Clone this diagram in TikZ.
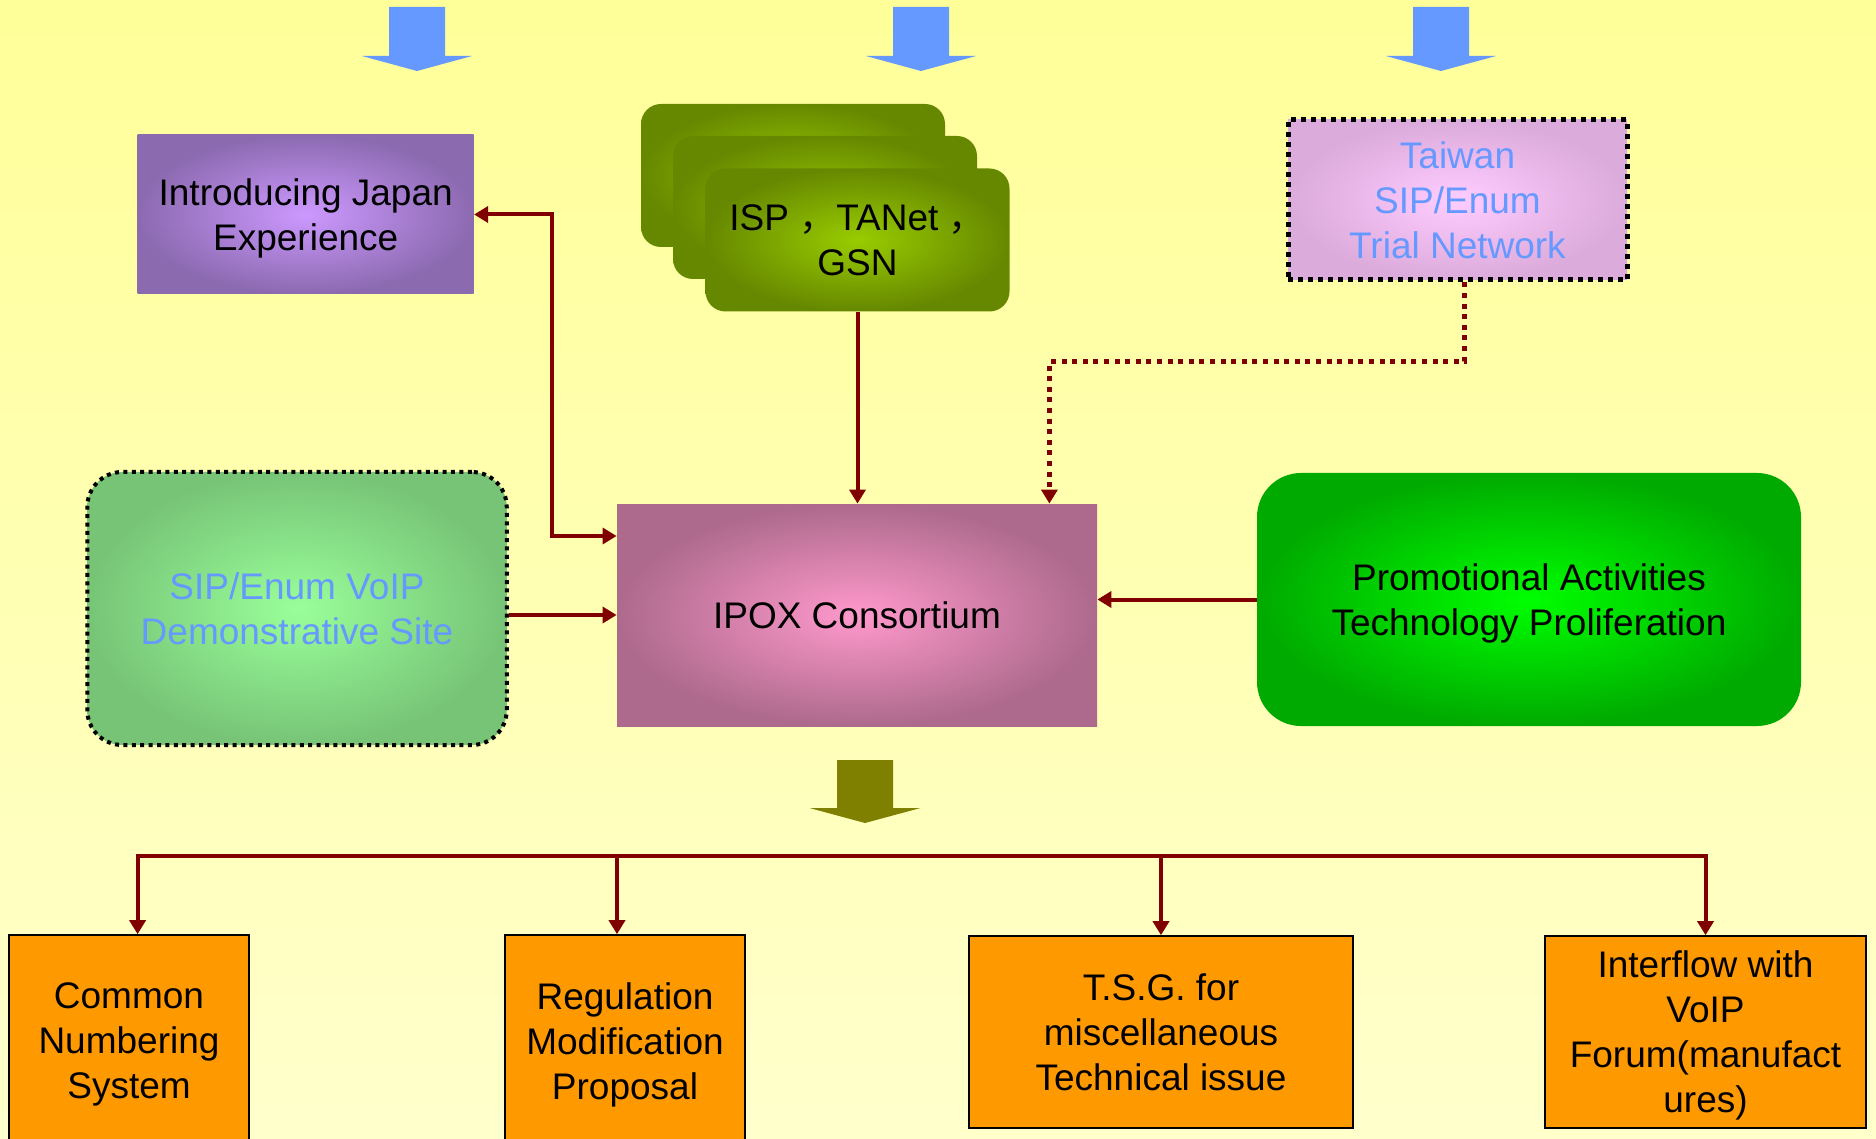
\documentclass[tikz,border=0pt]{standalone}
\usepackage{fontspec}
\setmainfont{Liberation Sans}
\newfontfamily\cjkfont{Noto Sans CJK SC}
\usetikzlibrary{arrows.meta}

\definecolor{bgtop}{RGB}{255,255,153}
\definecolor{bgbot}{RGB}{255,255,204}
\definecolor{linkred}{RGB}{128,0,0}
\definecolor{skyblue}{RGB}{102,153,255}
\definecolor{arrowolive}{RGB}{128,128,0}
\definecolor{boxorange}{RGB}{255,153,0}
\definecolor{japanout}{RGB}{140,106,176}
\definecolor{japanin}{RGB}{204,153,255}
\definecolor{ispout}{RGB}{102,136,0}
\definecolor{ispin}{RGB}{153,204,0}
\definecolor{taiwanout}{RGB}{219,171,219}
\definecolor{taiwanin}{RGB}{255,204,255}
\definecolor{ipoxout}{RGB}{173,106,140}
\definecolor{ipoxin}{RGB}{255,153,204}
\definecolor{demoout}{RGB}{119,196,119}
\definecolor{demoin}{RGB}{153,255,153}
\definecolor{promoout}{RGB}{0,170,0}
\definecolor{promoin}{RGB}{0,255,0}

\newcommand\nodepth[1]{\raisebox{0pt}[\height][0pt]{#1}}

\tikzset{
  box/.style={inner sep=0pt, align=center, font=\fontsize{18.5}{22.5}\selectfont},
  ispcard/.style={box, shade, inner color=ispin, outer color=ispout, rounded corners=10pt,
    minimum width=152pt, minimum height=71.5pt},
  task/.style={box, draw=black, line width=0.8pt, fill=boxorange},
  tip/.style={-{Triangle[length=7pt,width=8pt]}},
  conn/.style={draw=linkred, line width=2pt, tip},
  dotline/.style={draw=linkred, line width=2.5pt, dash pattern=on 2.5pt off 2.8pt, tip},
}

\begin{document}
\begin{tikzpicture}[x=0.5pt,y=-0.5pt]
  \useasboundingbox (0,0) rectangle (1876,1139);
  \clip (0,0) rectangle (1876,1139);
  \shade[top color=bgtop, bottom color=bgbot] (0,0) rectangle (1876,1139);

  \foreach \cx in {417,921,1441}
    \fill[skyblue] (\cx-28,7) -- (\cx+28,7) -- (\cx+28,56) -- (\cx+55,56) -- (\cx,71)
      -- (\cx-55,56) -- (\cx-28,56) -- cycle;

  \node[box, shade, inner color=japanin, outer color=japanout,
    minimum width=168pt, minimum height=79.5pt] (japan) at (305.7,214.5) {Introducing Japan\\\nodepth{Experience}};

  \node[ispcard] (ispback) at (793,175.5) {};
  \node[ispcard] (ispmid) at (825,207.5) {};
  \node[ispcard] (isp) at (857.5,240) {ISP {\cjkfont ，}TANet {\cjkfont ，}\\GSN};

  \node[box, shade, inner color=taiwanin, outer color=taiwanout, draw=black, line width=2.5pt,
    dash pattern=on 2.5pt off 2.5pt, text=skyblue,
    minimum width=169.5pt, minimum height=80pt] (taiwan) at (1457.5,200) {Taiwan\\SIP/Enum\\Trial Network};

  \node[box, shade, inner color=ipoxin, outer color=ipoxout,
    minimum width=240pt, minimum height=111pt] (ipox) at (857,615) {IPOX Consortium};

  \node[box, shade, inner color=demoin, outer color=demoout, draw=black, line width=2pt,
    dash pattern=on 2pt off 2.2pt, rounded corners=17.5pt, text=skyblue,
    minimum width=209.75pt, minimum height=136.5pt] (demo) at (297,608.5) {SIP/Enum VoIP\\Demonstrative Site};

  \node[box, shade, inner color=promoin, outer color=promoout, rounded corners=22pt,
    minimum width=272pt, minimum height=126.5pt] (promo) at (1529,599.5) {Promotional Activities\\\nodepth{Technology Proliferation}};

  \fill[arrowolive] (837,760) -- (893,760) -- (893,808) -- (920.5,808) -- (865,823)
    -- (809.5,808) -- (837,808) -- cycle;

  \node[task, minimum width=120pt, minimum height=106pt] (cns) at (129,1041) {Common\\Numbering\\\nodepth{System}};
  \node[task, minimum width=120pt, minimum height=106pt] (reg) at (625,1041) {Regulation\\Modification\\\nodepth{Proposal}};
  \node[task, minimum width=192pt, minimum height=96pt] (tsg) at (1161,1032) {T.S.G. for\\miscellaneous\\Technical issue};
  \node[task, minimum width=160.5pt, minimum height=96pt] (forum) at (1705.5,1032) {Interflow with\\VoIP\\Forum(manufact\\\nodepth{ures)}};

  \draw[conn] (isp.south) -- (isp.south |- ipox.north);
  \draw[dotline] ([xshift=3.5pt]taiwan.south) -- ++(0,79) -| ([xshift=-24pt]ipox.north east);
  \draw[conn, {Triangle[length=7pt,width=8pt]}-{Triangle[length=7pt,width=8pt]}]
    (japan.east) -- ++(78,0) |- ([yshift=39.5pt]ipox.west);
  \draw[conn] (demo.east |- ipox.west) -- (ipox.west);
  \draw[conn] (promo.west) -- (promo.west -| ipox.east);

  \coordinate (bus) at (0,856);
  \coordinate (cnsdrop) at ([xshift=4.3pt]cns.north);
  \coordinate (regdrop) at ([xshift=-4pt]reg.north);
  \draw[linkred, line width=2pt, line cap=rect] (cnsdrop |- bus) -- (forum.north |- bus);
  \draw[conn] (cnsdrop |- bus) -- (cnsdrop);
  \draw[conn] (regdrop |- bus) -- (regdrop);
  \foreach \t in {tsg,forum}
    \draw[conn] (\t.north |- bus) -- (\t.north);
\end{tikzpicture}
\end{document}
